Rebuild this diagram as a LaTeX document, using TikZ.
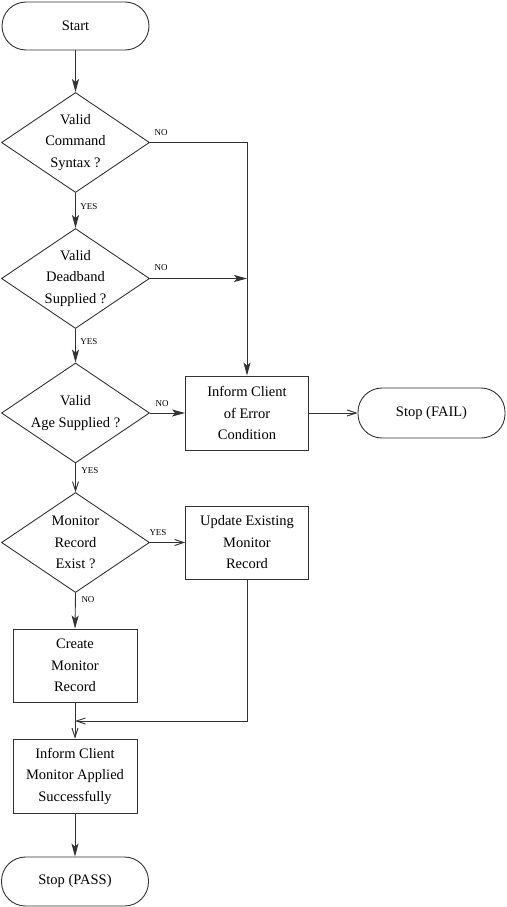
\documentclass[tikz,border=0pt]{standalone}
\usepackage{fontspec}
\setmainfont{Liberation Serif}
\usetikzlibrary{shapes.geometric,arrows.meta}
\begin{document}
\begin{tikzpicture}[x=1pt,y=-1pt,
  font=\fontsize{14.5}{21.5}\selectfont,
  color=black!80, text=black, line width=0.9pt,
  dia/.style={draw,diamond,inner sep=0pt,minimum width=148pt,minimum height=100pt},
  txt/.style={align=center,inner sep=0pt},
  box/.style={draw,rectangle,align=center,inner sep=0pt},
  term/.style={draw,rectangle,rounded corners=24pt,align=center,inner sep=0pt,minimum width=147pt,minimum height=48pt},
  lbl/.style={font=\fontsize{9}{10}\selectfont,inner sep=0pt},
  fa/.style={-{Stealth[length=13pt,width=7pt,inset=3pt]}},
  oa/.style={-{Straight Barb[length=9pt,width=6pt]}}
]
\useasboundingbox (0,0) rectangle (506,907);
\node[term] (start) at (75.5,26) {Start};
\node[dia] (d1) at (75.5,142.5) {};
\node[txt] (t1) at (d1.center) {Valid\\Command\\Syntax ?};
\node[dia] (d2) at (75.5,278.5) {};
\node[txt] (t2) at (d2.center) {Valid\\Deadband\\Supplied ?};
\node[dia] (d3) at (75.5,413) {};
\node[txt] (t3) at (d3.center) {Valid\\Age Supplied ?};
\node[dia] (d4) at (75.5,542.5) {};
\node[txt] (t4) at (d4.center) {Monitor\\Record\\Exist ?};
\node[box,minimum width=123pt,minimum height=74pt] (err) at (247,413) {Inform Client\\of Error\\Condition};
\node[term,minimum width=147pt,minimum height=50pt] (fail) at (431.5,413) {Stop (FAIL)};
\node[box,minimum width=123pt,minimum height=73pt] (upd) at (247,542.5) {Update Existing\\Monitor\\Record};
\node[box,minimum width=124pt,minimum height=73pt] (create) at (75,665.5) {Create\\Monitor\\Record};
\node[box,minimum width=124pt,minimum height=74pt] (inform) at (75,776) {Inform Client\\Monitor Applied\\Successfully};
\node[term,minimum height=49pt] (pass) at (75,881.5) {Stop (PASS)};
\coordinate (m1) at (err.north |- d1.east);
\coordinate (m2) at (err.north |- d2.east);
\coordinate (j1) at (247,721);
\coordinate (j2) at (75,721);
\draw[fa] (start.south) -- (d1.north);
\draw[fa] (d1.south) -- (d2.north);
\draw[fa] (d2.south) -- (d3.north);
\draw[oa] (d3.south) -- (d4.north);
\draw[fa] (d4.south) -- (create.north);
\draw[fa] (d1.east) -- (m1) -- (err.north);
\draw[fa] (d2.east) -- (m2);
\draw[fa] (d3.east) -- (err.west);
\draw[oa] (err.east) -- (fail.west);
\draw[oa] (d4.east) -- (upd.west);
\draw[oa] (upd.south) -- (j1) -- (j2);
\draw[oa] (create.south) -- (inform.north);
\draw[fa] (inform.south) -- (pass.north);
\node[lbl] (n1) at (161,133) {NO};
\node[lbl] (y1) at (89,207) {YES};
\node[lbl] (n2) at (161,268) {NO};
\node[lbl] (y2) at (89,342) {YES};
\node[lbl] (n3) at (162,404) {NO};
\node[lbl] (y3) at (90,471) {YES};
\node[lbl] (y4) at (158,533) {YES};
\node[lbl] (n4) at (88,600) {NO};
\end{tikzpicture}
\end{document}
